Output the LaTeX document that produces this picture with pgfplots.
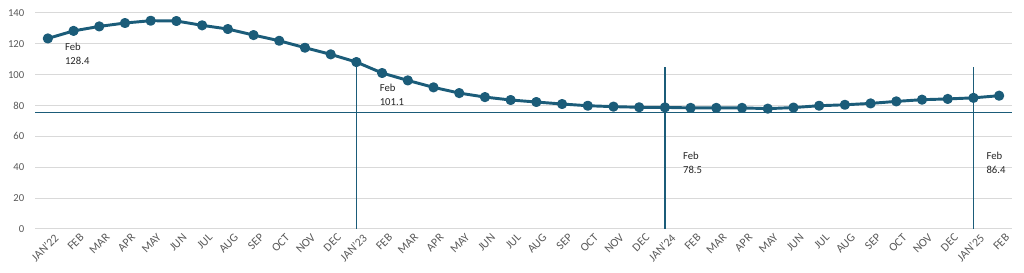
\documentclass[border=0pt]{standalone}
\usepackage{pgfplots}
\pgfplotsset{compat=1.18}
\usepackage{fontspec}
\setmainfont{Carlito}
\definecolor{lc}{HTML}{1B5C79}
\definecolor{gridc}{HTML}{D9D9D9}
\definecolor{tickc}{HTML}{595959}
\begin{document}
\begin{tikzpicture}
\begin{axis}[
  name=ax,
  scale only axis,
  width=732.75pt, height=162pt,
  xmin=-0.5, xmax=37.5,
  ymin=0, ymax=140,
  ytick={0,20,...,140},
  xtick={0,...,37},
  xticklabels={JAN'22,FEB,MAR,APR,MAY,JUN,JUL,AUG,SEP,OCT,NOV,DEC,JAN'23,FEB,MAR,APR,MAY,JUN,JUL,AUG,SEP,OCT,NOV,DEC,JAN'24,FEB,MAR,APR,MAY,JUN,JUL,AUG,SEP,OCT,NOV,DEC,JAN'25,FEB},
  axis line style={draw=none},
  major tick length=0pt,
  ymajorgrids,
  grid style={gridc, line width=0.75pt},
  /pgf/number format/assume math mode=true,
  yticklabel style={font=\fontsize{8}{9}\selectfont, text=tickc, xshift=-4.5pt},
  xticklabel style={font=\fontsize{8.8}{9}\selectfont, text=tickc, rotate=45, anchor=north east, yshift=-4pt, xshift=2pt, inner sep=1pt},
  clip=false,
]
\addplot[lc, line width=1.1pt] coordinates {(-0.5,75.6) (37.5,75.6)};
\addplot[lc, line width=1.1pt] coordinates {(12,0) (12,105)};
\addplot[lc, line width=1.1pt] coordinates {(24,0) (24,105)};
\addplot[lc, line width=1.1pt] coordinates {(36,0) (36,105)};
\addplot[lc, line width=2.2pt, line join=round, mark=*, mark size=2.7pt, mark options={solid, fill=lc, draw=none}] coordinates {
(0,123.5) (1,128.4) (2,131.3) (3,133.5) (4,135.0) (5,134.8) (6,132.0) (7,129.6)
(8,125.7) (9,122.0) (10,117.5) (11,113.2) (12,108.2) (13,101.1) (14,96.3) (15,91.8)
(16,88.1) (17,85.5) (18,83.6) (19,82.3) (20,81.0) (21,79.9) (22,79.3) (23,78.9)
(24,78.8) (25,78.5) (26,78.5) (27,78.5) (28,78.0) (29,78.7) (30,79.9) (31,80.5)
(32,81.4) (33,82.7) (34,83.8) (35,84.3) (36,85.0) (37,86.4)};
\begin{scope}[every node/.style={anchor=west, inner sep=0pt, align=left, font=\fontsize{8}{10.5}\selectfont, text=black!85}]
\node at (axis cs:0.66,113.5) {Feb\\128.4};
\node at (axis cs:12.9,87.2) {Feb\\101.1};
\node at (axis cs:24.7,43.1) {Feb\\78.5};
\node at (axis cs:36.5,43.1) {Feb\\86.4};
\end{scope}
\end{axis}
\pgfresetboundingbox
\path ([xshift=-26.25pt,yshift=-33pt]ax.south west) rectangle ([xshift=9pt,yshift=9.75pt]ax.north east);
\end{tikzpicture}
\end{document}
